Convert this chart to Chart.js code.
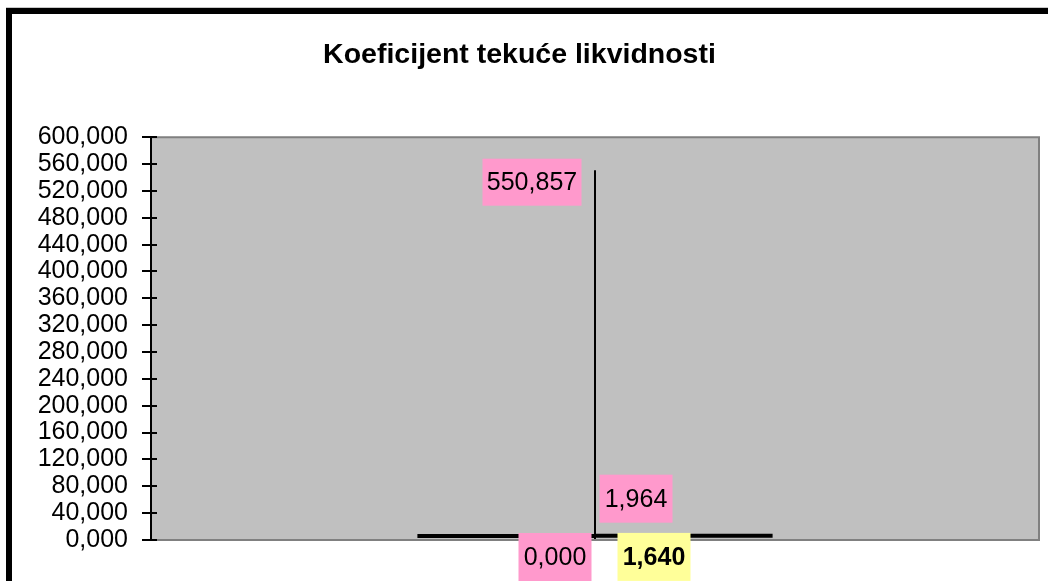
<!DOCTYPE html>
<html>
<head>
<meta charset="utf-8">
<script src="https://cdn.jsdelivr.net/npm/chart.js@4.4.1/dist/chart.umd.min.js"></script>
<style>
  html, body { margin: 0; padding: 0; background: #fff; }
  #wrap { width: 1048px; height: 581px; position: relative; }
</style>
</head>
<body>
<div id="wrap"><canvas id="chart"></canvas></div>
<script>
// ===== DATA =====
const categories = [""];
const highValues = [550.857];
const lowValues = [0.000];
const openValues = [1.640];
const closeValues = [1.964];
const yTicks = [0, 40, 80, 120, 160, 200, 240, 280, 320, 360, 400, 440, 480, 520, 560, 600];

const FONT = "'Liberation Sans', Arial, sans-serif";
const fmt = v => v.toFixed(3).replace('.', ',');

// label boxes: offset of box centre from its point, box size
const labelDefs = [
  { values: highValues, bg: '#FF99CC', bold: false, dx: -63, dy: 12, w: 99, h: 47 },
  { values: closeValues, bg: '#FF99CC', bold: false, dx: 41, dy: -40, w: 73, h: 48 },
  { values: lowValues, bg: '#FF99CC', bold: false, dx: -40, dy: 17, w: 73, h: 48 },
  { values: openValues, bg: '#FFFF99', bold: true, dx: 59, dy: 18, w: 73, h: 48 }
];

// ===== PLUGINS =====
const framePlugin = {
  id: 'frame',
  beforeDraw(chart) {
    const { ctx, chartArea: a } = chart;
    ctx.save();
    // outer chart frame (only top/left visible)
    ctx.fillStyle = '#c8c8c8';
    ctx.fillRect(6, 7, chart.width, 1);
    ctx.fillStyle = '#000';
    ctx.fillRect(6, 8, chart.width, 6);
    ctx.fillRect(6, 8, 6, chart.height);
    // plot area
    ctx.fillStyle = '#C0C0C0';
    ctx.fillRect(a.left, a.top, a.right - a.left, a.bottom - a.top);
    ctx.restore();
  },
  // open/close dashes sit on top of their value, like the original
  beforeDatasetDraw(chart, args) {
    if (args.index > 0) {
      chart.ctx.save();
      chart.ctx.translate(0, -3);
    }
  },
  afterDatasetDraw(chart, args) {
    if (args.index > 0) chart.ctx.restore();
  },
  afterDatasetsDraw(chart) {
    const { ctx, chartArea: a, scales } = chart;
    const y = scales.y;
    ctx.save();
    // plot border
    ctx.strokeStyle = '#808080';
    ctx.lineWidth = 2;
    ctx.beginPath();
    ctx.moveTo(a.left, a.top);
    ctx.lineTo(a.right, a.top);
    ctx.lineTo(a.right, a.bottom);
    ctx.lineTo(a.left, a.bottom);
    ctx.stroke();
    // y axis line and ticks
    ctx.strokeStyle = '#000';
    ctx.beginPath();
    ctx.moveTo(a.left, a.top);
    ctx.lineTo(a.left, a.bottom);
    yTicks.forEach(v => {
      const py = Math.round(y.getPixelForValue(v));
      ctx.moveTo(a.left - 9, py);
      ctx.lineTo(a.left + 6, py);
    });
    ctx.stroke();

    // data labels
    const x = scales.x;
    labelDefs.forEach(d => {
      d.values.forEach((v, i) => {
        const px = x.getPixelForValue(i);
        const py = y.getPixelForValue(v);
        const cx = px + d.dx, cy = py + d.dy;
        ctx.fillStyle = d.bg;
        ctx.fillRect(cx - d.w / 2, cy - d.h / 2, d.w, d.h);
        ctx.fillStyle = '#000';
        ctx.font = (d.bold ? 'bold ' : '') + '25px ' + FONT;
        ctx.textAlign = 'center';
        ctx.textBaseline = 'middle';
        ctx.fillText(fmt(v), cx, cy + 1);
      });
    });
    ctx.restore();
  }
};

// ===== CHART =====
const highLow = categories.flatMap((c, i) => [
  { x: i, y: lowValues[i] }, { x: i, y: highValues[i] }
]);
const openTicks = categories.flatMap((c, i) => [
  { x: i - 0.2, y: openValues[i] }, { x: i, y: openValues[i] }
]);
const closeTicks = categories.flatMap((c, i) => [
  { x: i, y: closeValues[i] }, { x: i + 0.2, y: closeValues[i] }
]);

new Chart(document.getElementById('chart'), {
  type: 'scatter',
  data: {
    datasets: [
      { label: 'High-Low', data: highLow, showLine: true, borderColor: '#000', borderWidth: 2, pointRadius: 0 },
      { label: 'Open', data: openTicks, showLine: true, borderColor: '#000', borderWidth: 4, pointRadius: 0, clip: false },
      { label: 'Close', data: closeTicks, showLine: true, borderColor: '#000', borderWidth: 4, pointRadius: 0, clip: false }
    ]
  },
  options: {
    responsive: true,
    maintainAspectRatio: false,
    animation: false,
    layout: { padding: { left: 0, right: 9, top: 0, bottom: 41 } },
    plugins: {
      legend: { display: false },
      tooltip: { enabled: false },
      title: {
        display: true,
        text: 'Koeficijent tekuće likvidnosti',
        color: '#000',
        font: { family: FONT, size: 28.5, weight: 'bold' },
        padding: { top: 38, bottom: 65 }
      }
    },
    scales: {
      x: {
        type: 'linear',
        display: false,
        min: -0.5,
        max: categories.length - 0.5
      },
      y: {
        min: 0,
        max: 600,
        afterBuildTicks: s => { s.ticks = yTicks.map(v => ({ value: v })); },
        afterFit: s => { s.width = 151; },
        grid: { display: false, drawTicks: false },
        border: { display: false },
        ticks: {
          color: '#000',
          padding: 23,
          autoSkip: false,
          font: { family: FONT, size: 25 },
          callback: v => fmt(v)
        }
      }
    }
  },
  plugins: [framePlugin]
});
</script>
</body>
</html>
